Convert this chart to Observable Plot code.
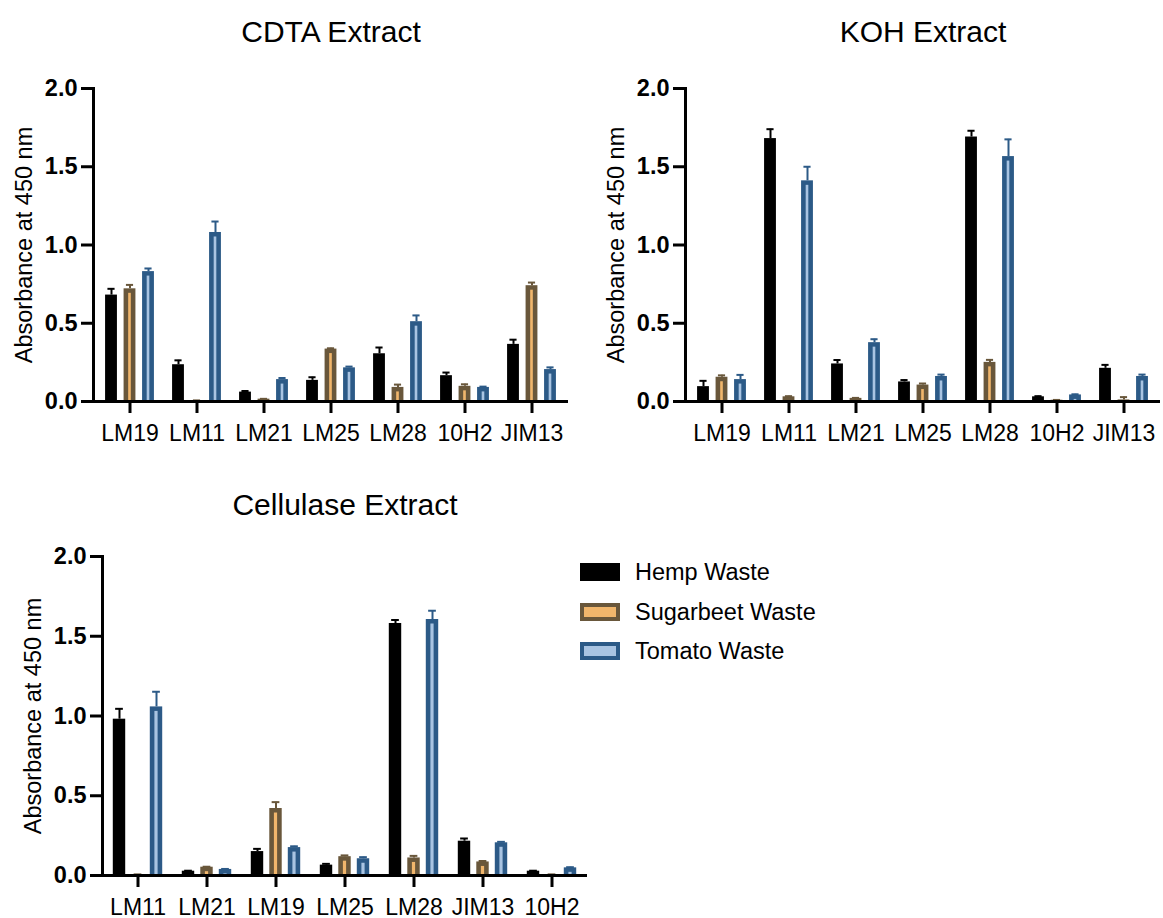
<!DOCTYPE html>
<html>
<head>
<meta charset="utf-8">
<script src="https://cdn.jsdelivr.net/npm/d3@7"></script>
<script src="https://cdn.jsdelivr.net/npm/@observablehq/plot@0.6"></script>
<style>
  body { margin: 0; background: #fff; }
  #page { position: relative; width: 1163px; height: 918px; background: #fff; font-family: "Liberation Sans", Arial, sans-serif; color: #000; }
  .title { position: absolute; width: 400px; text-align: center; font-size: 30px; line-height: 34px; white-space: nowrap; }
  .panel { position: absolute; }
  .panel svg { overflow: visible; }
  .panel g[aria-label="y-axis tick label"] text { font-weight: bold; font-size: 23.5px; }
  .panel g[aria-label="x-axis tick label"] text { font-size: 23px; }
  .panel g[aria-label="y-axis label"] text { font-size: 23.5px; }
  .legend { position: absolute; left: 580px; top: 559px; font-size: 23.5px; white-space: nowrap; }
  .legend .row { position: relative; height: 39.5px; }
  .legend .sw { position: absolute; left: 0; top: 4px; width: 40px; height: 18px; box-sizing: border-box; }
  .legend .lab { position: absolute; left: 55px; top: 0; line-height: 26px; }
</style>
</head>
<body>
<div id="page"></div>
<script>
// ---------------- data ----------------
const seriesNames = ["Hemp Waste", "Sugarbeet Waste", "Tomato Waste"];
const seriesOuter = ["#000000", "#69573b", "#2c5a87"];
const seriesInner = [null, "#f1b66c", "#a9c4e2"];

const cdtaEpitopes = ["LM19", "LM11", "LM21", "LM25", "LM28", "10H2", "JIM13"];
const cdtaHemp      = [0.68, 0.235, 0.06, 0.135, 0.305, 0.165, 0.365];
const cdtaHempErr   = [0.04, 0.028, 0.007, 0.02, 0.04, 0.02, 0.03];
const cdtaSugar     = [0.72, 0.005, 0.015, 0.335, 0.09, 0.097, 0.74];
const cdtaSugarErr  = [0.025, 0.002, 0.002, 0.005, 0.018, 0.013, 0.02];
const cdtaTomato    = [0.83, 1.08, 0.14, 0.215, 0.51, 0.09, 0.204];
const cdtaTomatoErr = [0.02, 0.07, 0.01, 0.008, 0.04, 0.005, 0.014];

const kohEpitopes = ["LM19", "LM11", "LM21", "LM25", "LM28", "10H2", "JIM13"];
const kohHemp      = [0.095, 1.68, 0.24, 0.125, 1.69, 0.03, 0.212];
const kohHempErr   = [0.037, 0.06, 0.025, 0.012, 0.04, 0.004, 0.022];
const kohSugar     = [0.155, 0.03, 0.02, 0.105, 0.25, 0.008, 0.01];
const kohSugarErr  = [0.012, 0.004, 0.003, 0.01, 0.016, 0.002, 0.018];
const kohTomato    = [0.14, 1.41, 0.376, 0.16, 1.565, 0.042, 0.16];
const kohTomatoErr = [0.03, 0.09, 0.022, 0.012, 0.11, 0.004, 0.012];

const celEpitopes = ["LM11", "LM21", "LM19", "LM25", "LM28", "JIM13", "10H2"];
const celHemp      = [0.98, 0.027, 0.15, 0.065, 1.58, 0.215, 0.027];
const celHempErr   = [0.065, 0.003, 0.017, 0.008, 0.022, 0.017, 0.003];
const celSugar     = [0.005, 0.052, 0.42, 0.118, 0.11, 0.085, 0.005];
const celSugarErr  = [0.002, 0.003, 0.04, 0.008, 0.013, 0.006, 0.002];
const celTomato    = [1.057, 0.038, 0.175, 0.105, 1.605, 0.205, 0.048];
const celTomatoErr = [0.095, 0.003, 0.008, 0.01, 0.055, 0.006, 0.004];

const yTicks = [0, 0.5, 1.0, 1.5, 2.0];
const yLabel = "Absorbance at 450 nm";

// ---------------- drawing ----------------
const page = document.getElementById("page");

function addTitle(text, cx, cy) {
  const d = document.createElement("div");
  d.className = "title";
  d.textContent = text;
  d.style.left = (cx - 200) + "px";
  d.style.top = (cy - 17) + "px";
  page.appendChild(d);
}

function panel(cfg) {
  const {cats, values, errs, left, top, width, height, mL, mR, mT, mB} = cfg;
  const bw = (width - mL - mR) / cats.length;
  const barW = 12.7;
  const baseInset = (bw - barW) / 2;
  const offsets = [-18.5, 0, 18.5];
  const marks = [];
  seriesNames.forEach((s, si) => {
    const rows = cats.map((c, i) => ({cat: c, value: values[si][i], err: errs[si][i]}));
    const dx = offsets[si];
    marks.push(Plot.barY(rows, {x: "cat", y: "value", fill: seriesOuter[si], insetLeft: baseInset, insetRight: baseInset, dx}));
    if (seriesInner[si]) {
      marks.push(Plot.barY(rows, {x: "cat", y: "value", fill: seriesInner[si], insetLeft: baseInset + 4.6, insetRight: baseInset + 4.6, insetTop: 4.5, dx}));
    }
    marks.push(Plot.ruleX(rows, {x: "cat", y1: "value", y2: d => d.value + d.err, stroke: seriesOuter[si], strokeWidth: 2, dx}));
    marks.push(Plot.tickY(rows, {x: "cat", y: d => d.value + d.err, stroke: seriesOuter[si], strokeWidth: 2, insetLeft: (bw - 8) / 2, insetRight: (bw - 8) / 2, dx}));
  });
  marks.push(Plot.ruleY([0], {stroke: "#000", strokeWidth: 3}));
  marks.push(Plot.frame({anchor: "left", stroke: "#000", strokeWidth: 3}));
  marks.push(Plot.axisX({tickSize: 12, strokeWidth: 3, tickPadding: 11, label: null}));
  marks.push(Plot.axisY(yTicks, {tickSize: 12, strokeWidth: 3, tickPadding: 4, tickFormat: d3.format(".1f"),
    label: yLabel, labelAnchor: "center", labelOffset: 78, labelArrow: "none"}));
  const chart = Plot.plot({
    width, height, marginLeft: mL, marginRight: mR, marginTop: mT, marginBottom: mB,
    x: {domain: cats, padding: 0, axis: null, label: null},
    y: {domain: [0, 2], axis: null},
    style: {fontFamily: '"Liberation Sans", Arial, sans-serif', fontSize: "22px", color: "#000", background: "transparent"},
    marks
  });
  chart.querySelectorAll('g[aria-label="y-axis label"] text').forEach(t => {
    t.textContent = t.textContent.replace(/[\u2191\u2192\u2193\u2190]/g, "").trim();
  });
  const wrap = document.createElement("div");
  wrap.className = "panel";
  wrap.style.left = left + "px";
  wrap.style.top = top + "px";
  wrap.appendChild(chart);
  page.appendChild(wrap);
}

addTitle("CDTA Extract", 331, 32);
panel({cats: cdtaEpitopes, values: [cdtaHemp, cdtaSugar, cdtaTomato], errs: [cdtaHempErr, cdtaSugarErr, cdtaTomatoErr],
  left: 0, top: 70, width: 580, height: 381, mL: 93, mR: 12, mT: 18, mB: 50});

addTitle("KOH Extract", 923, 32);
panel({cats: kohEpitopes, values: [kohHemp, kohSugar, kohTomato], errs: [kohHempErr, kohSugarErr, kohTomatoErr],
  left: 595, top: 70, width: 568, height: 381, mL: 90, mR: 3, mT: 18, mB: 50});

addTitle("Cellulase Extract", 345, 505);
panel({cats: celEpitopes, values: [celHemp, celSugar, celTomato], errs: [celHempErr, celSugarErr, celTomatoErr],
  left: 0, top: 540, width: 600, height: 378, mL: 102, mR: 13, mT: 16, mB: 43});

// legend
const legend = document.createElement("div");
legend.className = "legend";
seriesNames.forEach((s, i) => {
  const row = document.createElement("div");
  row.className = "row";
  const sw = document.createElement("div");
  sw.className = "sw";
  sw.style.background = seriesInner[i] || seriesOuter[i];
  sw.style.border = "4px solid " + seriesOuter[i];
  const lab = document.createElement("div");
  lab.className = "lab";
  lab.textContent = s;
  row.appendChild(sw);
  row.appendChild(lab);
  legend.appendChild(row);
});
page.appendChild(legend);
</script>
</body>
</html>
